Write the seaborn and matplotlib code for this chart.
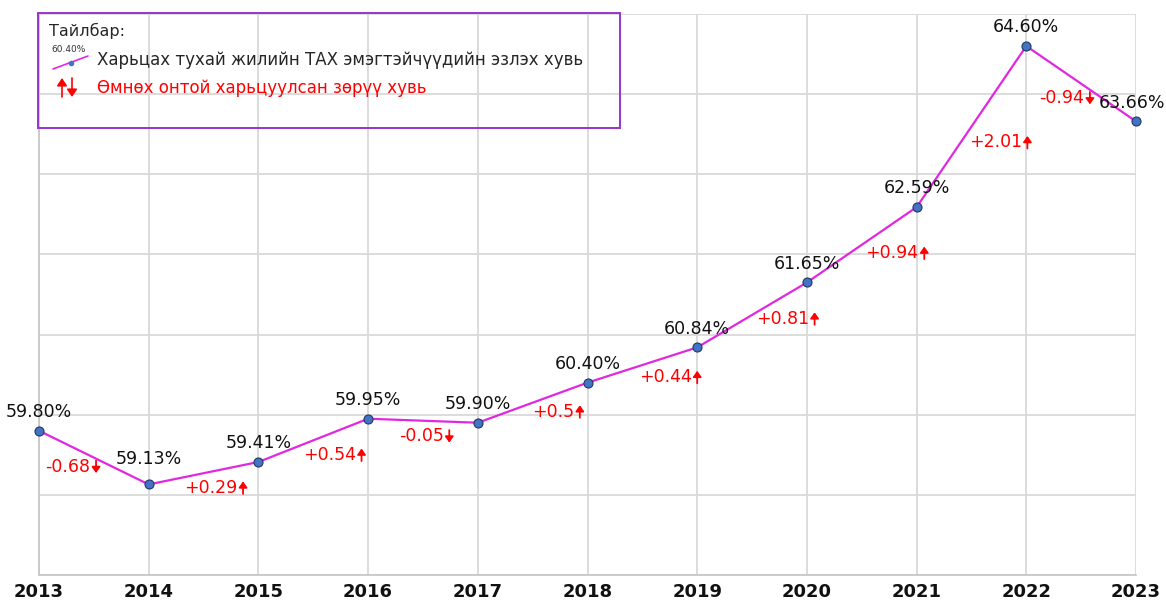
import matplotlib
matplotlib.use("Agg")
import matplotlib.pyplot as plt
import matplotlib.transforms as mtransforms
import seaborn as sns
import pandas as pd
from matplotlib.patches import Rectangle, FancyArrowPatch
from matplotlib.lines import Line2D

# Data
years = [2013, 2014, 2015, 2016, 2017, 2018, 2019, 2020, 2021, 2022, 2023]
share = [59.80, 59.13, 59.41, 59.95, 59.90, 60.40, 60.84, 61.65, 62.59, 64.60, 63.66]
changes = [-0.68, 0.29, 0.54, -0.05, 0.5, 0.44, 0.81, 0.94, 2.01, -0.94]

legend_title = "Тайлбар:"
legend_line = "Харьцах тухай жилийн ТАХ эмэгтэйчүүдийн эзлэх хувь"
legend_change = "Өмнөх онтой харьцуулсан зөрүү хувь"

# label placement (x shift from the end year, y in data units)
chg_dx = [-0.48, -0.14, -0.06, -0.26, -0.07, 0.0, 0.07, 0.07, 0.01, -0.42]
chg_y = [59.35, 59.09, 59.50, 59.73, 60.04, 60.47, 61.20, 62.02, 63.40, 63.95]

LINE_C = "#e028e0"
MARK_C = "#4472c4"
RED = "#ff0000"

df = pd.DataFrame({"year": years, "share": share})

sns.set_style("white")
plt.rcParams["font.family"] = ["DejaVu Sans"]

W, H = 1166, 601
fig = plt.figure(figsize=(W / 100, H / 100), dpi=100)
ax = fig.add_axes([39 / W, 1 - 575 / H, (1136 - 39) / W, (575 - 14) / H])

sns.lineplot(data=df, x="year", y="share", ax=ax, color=LINE_C, linewidth=1.6,
             marker="o", markersize=6.5, markerfacecolor=MARK_C,
             markeredgecolor="#1f3864", markeredgewidth=0.8, clip_on=False, zorder=5)

ax.set_xlim(2013, 2023)
ax.set_ylim(58, 65)
ax.set_xticks(years)
ax.set_xticklabels([str(y) for y in years], fontweight="bold", fontsize=13)
ax.set_yticks(range(58, 66))
ax.set_yticklabels([])
ax.tick_params(axis="both", length=0)
ax.tick_params(axis="x", pad=6, colors="#111111")
ax.grid(True, color="#d9d9d9", linewidth=1.3)
ax.set_xlabel("")
ax.set_ylabel("")
for s in ["top", "right"]:
    ax.spines[s].set_visible(False)
for s in ["left", "bottom"]:
    ax.spines[s].set_color("#c8c8c8")
    ax.spines[s].set_linewidth(1.3)

# value labels
for i, (x, v) in enumerate(zip(years, share)):
    off = 18 if i == 1 else 13.5
    dx = -3 if i == len(years) - 1 else 0
    ax.annotate(f"{v:.2f}%", (x, v), xytext=(dx, off), textcoords="offset points",
                ha="center", va="center", fontsize=12.5, color="#111111", zorder=6)

# change labels with arrows
arrow_style = "-|>,head_length=0.35,head_width=0.25"
for i, c in enumerate(changes):
    ax_x = years[i + 1] + chg_dx[i]
    y = chg_y[i]
    ax.annotate(f"{c:+g}", (ax_x, y), xytext=(-4, 0), textcoords="offset points",
                ha="right", va="center", fontsize=12.5, color=RED)
    tip = 4.5 if c >= 0 else -4.5
    tip_tr = mtransforms.offset_copy(ax.transData, fig=fig, x=0, y=tip, units="points")
    ax.annotate("", xy=(ax_x, y), xycoords=tip_tr,
                xytext=(0, -2 * tip), textcoords="offset points",
                arrowprops=dict(arrowstyle=arrow_style, color=RED, lw=1.3,
                                shrinkA=0, shrinkB=0))


def px(x, y):
    return x / W, 1 - y / H


# legend box
x0, y0 = px(38, 128)
fig.patches.append(Rectangle((x0, y0), (620 - 38) / W, (128 - 13) / H,
                             transform=fig.transFigure, fill=False,
                             edgecolor="#9933cc", linewidth=1.4, zorder=10))
fig.text(*px(49, 31), legend_title, fontsize=11.5, va="center", ha="left")
xa, ya = px(53, 69)
xb, yb = px(88, 56)
fig.add_artist(Line2D([xa, xb], [ya, yb], color=LINE_C, lw=1.2))
fig.add_artist(Line2D([(xa + xb) / 2], [(ya + yb) / 2], marker="o", markersize=3,
                      color=MARK_C, lw=0))
fig.text(*px(69, 50), "60.40%", fontsize=6.5, ha="center", va="center", color="#333333")
fig.text(*px(97, 60), legend_line, fontsize=12, va="center", ha="left")
fig.text(*px(97, 88), legend_change, fontsize=12, va="center", ha="left", color=RED)
for xx, up in [(62, True), (72, False)]:
    a, b = (px(xx, 97), px(xx, 78)) if up else (px(xx, 78), px(xx, 97))
    fig.add_artist(FancyArrowPatch(
        a, b, transform=fig.transFigure, arrowstyle="-|>,head_length=4.5,head_width=3",
        color=RED, lw=1.2, shrinkA=0, shrinkB=0))

fig.savefig("out.png", dpi=100)
